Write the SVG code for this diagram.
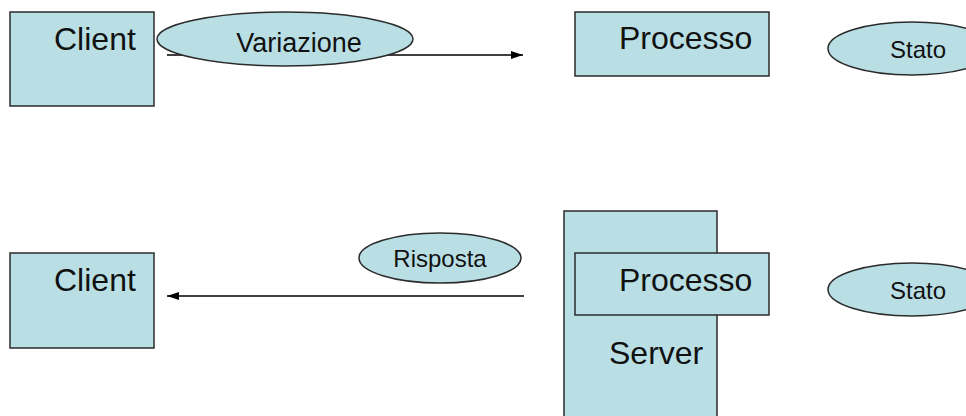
<svg xmlns="http://www.w3.org/2000/svg" width="966" height="416" viewBox="0 0 966 416">
<defs>
<style>
.box{fill:#b9dfe5;stroke:#2b2b2b;stroke-width:1.5}
.t{font-family:"Liberation Sans",Arial,sans-serif;fill:#111}
.big{font-size:32px}
.sm{font-size:24px}
.ln{stroke:#000;stroke-width:1.3;fill:none}
</style>
<marker id="ah" viewBox="0 0 12 10" refX="12" refY="5" markerWidth="12" markerHeight="10" markerUnits="userSpaceOnUse" orient="auto">
<path d="M0,1 L12,5 L0,9 Z" fill="#000"/>
</marker>
</defs>
<rect width="966" height="416" fill="#fff"/>
<g id="client-top">
<rect class="box" x="10" y="12" width="144" height="94"/>
<text class="t big" x="54" y="50">Client</text>
</g>
<g id="connectors">
<line class="ln" x1="167" y1="55" x2="523" y2="55" marker-end="url(#ah)"/>
<line class="ln" x1="524" y1="296" x2="167" y2="296" marker-end="url(#ah)"/>
</g>
<g id="variazione">
<ellipse class="box" cx="285" cy="39" rx="128" ry="27"/>
<text class="t" font-size="27" x="299" y="52" text-anchor="middle">Variazione</text>
</g>
<g id="processo-top">
<rect class="box" x="575" y="12" width="194" height="64"/>
<text class="t big" x="619" y="49">Processo</text>
</g>
<g id="stato-top">
<ellipse class="box" cx="912" cy="48.5" rx="84" ry="26.5"/>
<text class="t sm" x="918" y="58" text-anchor="middle">Stato</text>
</g>
<g id="client-bottom">
<rect class="box" x="10" y="253" width="144" height="95"/>
<text class="t big" x="54" y="291">Client</text>
</g>
<g id="risposta">
<ellipse class="box" cx="440" cy="258" rx="81" ry="25"/>
<text class="t sm" x="440" y="267" text-anchor="middle">Risposta</text>
</g>
<g id="server">
<rect class="box" x="564" y="211" width="153" height="215"/>
<text class="t big" x="609" y="364">Server</text>
</g>
<g id="processo-bottom">
<rect class="box" x="575" y="253" width="194" height="62"/>
<text class="t big" x="619" y="291">Processo</text>
</g>
<g id="stato-bottom">
<ellipse class="box" cx="912" cy="289.5" rx="84" ry="26.5"/>
<text class="t sm" x="918" y="299" text-anchor="middle">Stato</text>
</g>
</svg>
